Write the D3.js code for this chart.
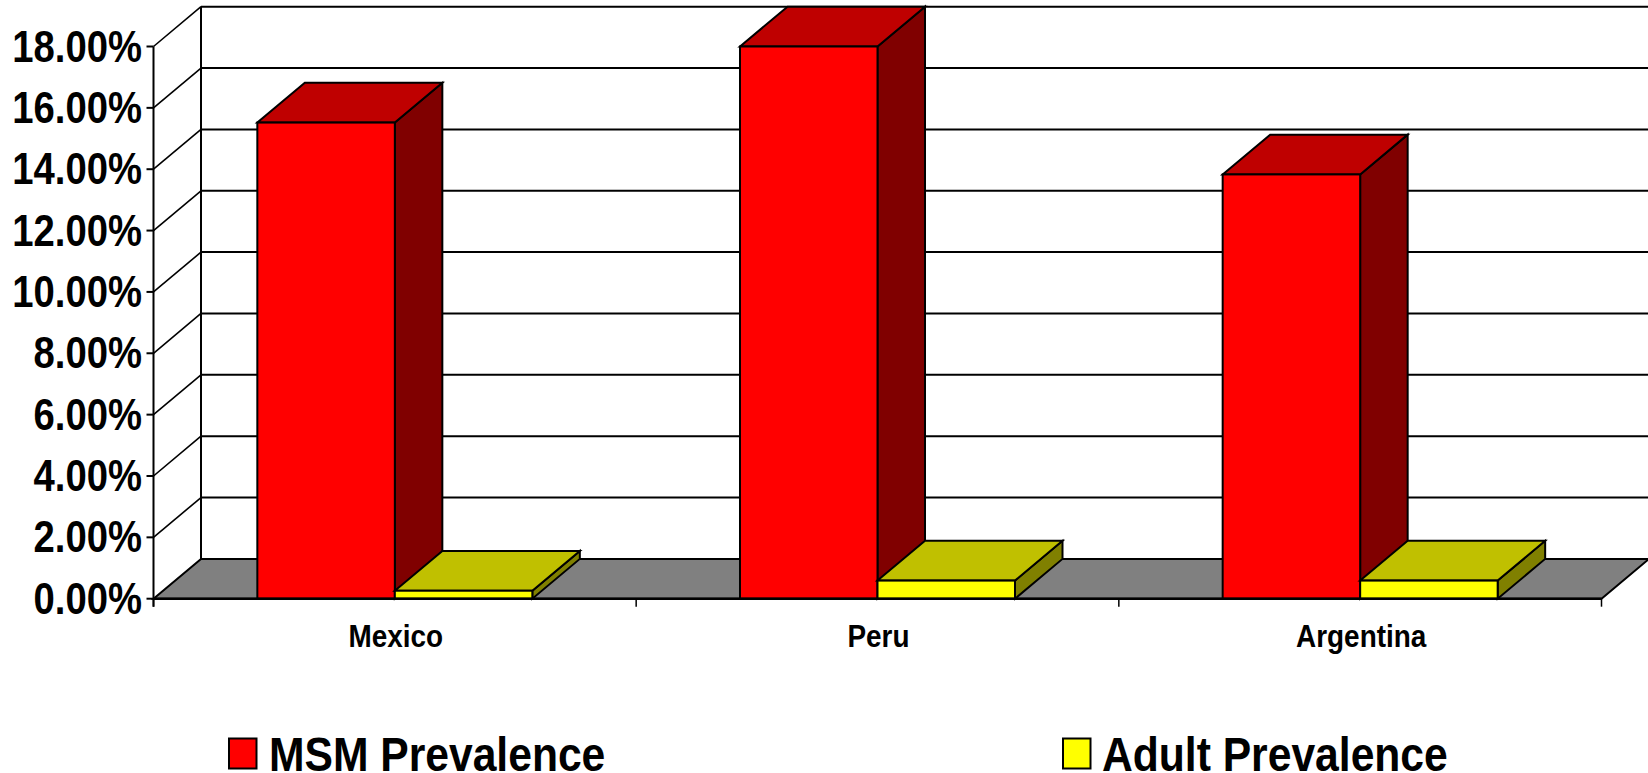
<!DOCTYPE html>
<html><head><meta charset="utf-8">
<script src="https://cdn.jsdelivr.net/npm/d3@7/dist/d3.min.js"></script>
<style>html,body{margin:0;padding:0;background:#fff;overflow:hidden}svg{display:block}text{font-family:"Liberation Sans",Arial,sans-serif;font-weight:700;fill:#000}</style>
</head><body><svg id="c" width="1648" height="773"></svg>
<script>
const categories = ["Mexico","Peru","Argentina"];
const seriesNames = ["MSM Prevalence","Adult Prevalence"];
const msmValues = [15.52,18.0,13.83];
const adultValues = [0.26,0.59,0.59];
const yTicks = [0,2,4,6,8,10,12,14,16,18];

const svg = d3.select("#c");
const depthX = 47.5, depthY = 39.8;
const x = d3.scaleBand().domain(categories).range([153.5,1601.5]).paddingInner(0).paddingOuter(0);
const y = d3.scaleLinear().domain([0,18]).range([598.7,46.5]);
const barW = 137.5, sideGap = (x.bandwidth()-2*barW)/2;
const tickFmt = d => d.toFixed(2)+"%";
const poly = pts => pts.map(p=>p.join(",")).join(" ");
const line = (x1,y1,x2,y2,w=2) => svg.append("line").attr("x1",x1).attr("y1",y1).attr("x2",x2).attr("y2",y2).attr("stroke","#000").attr("stroke-width",w);

// floor
const x0 = x.range()[0], x1 = x.range()[1], y0 = y(0);
svg.append("polygon").attr("points",poly([[x0,y0],[x0+depthX,y0-depthY],[x1+depthX,y0-depthY],[x1,y0]]))
  .attr("fill","#808080").attr("stroke","#000").attr("stroke-width",2);

// walls and gridlines
yTicks.forEach(t=>{
  if(t>0) line(x0+depthX,y(t)-depthY,1648,y(t)-depthY);
  if(t>0) line(x0,y(t),x0+depthX,y(t)-depthY,1.6);
  line(x0-7,y(t),x0,y(t),2);
});
line(x0,y(18),x0,y0+8,2);
line(x0+depthX,y(18)-depthY,x0+depthX,y0-depthY,2);
x.domain().forEach(c=>line(x(c),y0,x(c),y0+8,1.5));
line(x1,y0,x1,y0+8,1.5);

// bars
function bar(left,v,front,top,side){
  const t=y(v), w=barW;
  const g=svg.append("g").attr("stroke","#000").attr("stroke-width",2).attr("stroke-linejoin","miter");
  g.append("polygon").attr("points",poly([[left+w,t],[left+w+depthX,t-depthY],[left+w+depthX,y0-depthY],[left+w,y0]])).attr("fill",side);
  g.append("polygon").attr("points",poly([[left,t],[left+depthX,t-depthY],[left+w+depthX,t-depthY],[left+w,t]])).attr("fill",top);
  g.append("rect").attr("x",left).attr("y",t).attr("width",w).attr("height",y0-t).attr("fill",front);
}
categories.forEach((c,i)=>{
  const l=x(c)+sideGap;
  bar(l,msmValues[i],"#ff0000","#bf0000","#800000");
  bar(l+barW,adultValues[i],"#ffff00","#c0c000","#808000");
});
line(x0,y0,x1,y0,2.5);

// y labels
yTicks.forEach(t=>{
  svg.append("text").text(tickFmt(t))
    .attr("transform",`translate(142,${y(t)+15}) scale(0.85,1)`)
    .attr("text-anchor","end").attr("font-size",45);
});
// x labels
categories.forEach(c=>{
  svg.append("text").text(c)
    .attr("transform",`translate(${x(c)+x.bandwidth()/2+1},647) scale(0.9,1)`)
    .attr("text-anchor","middle").attr("font-size",31);
});
// legend
const legendX=[[229,269],[1063,1102]], legendFill=["#ff0000","#ffff00"];
seriesNames.forEach((s,i)=>{
  svg.append("rect").attr("x",legendX[i][0]).attr("y",738.5).attr("width",27.5).attr("height",30)
    .attr("fill",legendFill[i]).attr("stroke","#000").attr("stroke-width",2);
  svg.append("text").text(s).attr("transform",`translate(${legendX[i][1]},771) scale(0.87,1)`).attr("font-size",49);
});
</script></body></html>
